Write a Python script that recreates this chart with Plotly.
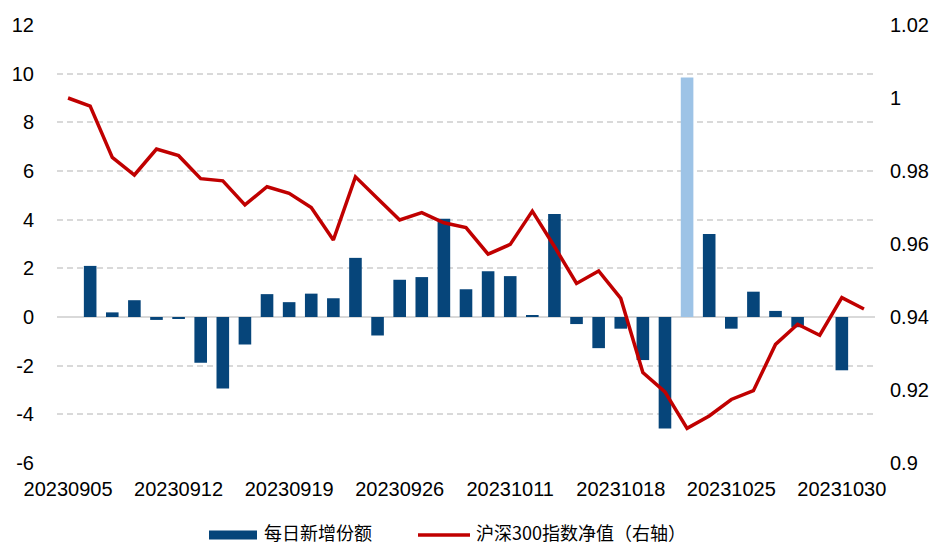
import plotly.graph_objects as go

dates = [
    "20230905", "20230906", "20230907", "20230908", "20230911", "20230912",
    "20230913", "20230914", "20230915", "20230918", "20230919", "20230920",
    "20230921", "20230922", "20230925", "20230926", "20230927", "20230928",
    "20231009", "20231010", "20231011", "20231012", "20231013", "20231016",
    "20231017", "20231018", "20231019", "20231020", "20231023", "20231024",
    "20231025", "20231026", "20231027", "20231028", "20231029", "20231030",
    "20231031",
]
tick_labels = ["20230905", "20230912", "20230919", "20230926", "20231011",
               "20231018", "20231025", "20231030"]

daily_new_shares = [
    0.0, 2.10, 0.19, 0.69, -0.12, -0.08, -1.88, -2.94, -1.13, 0.94,
    0.61, 0.96, 0.77, 2.43, -0.76, 1.53, 1.64, 4.04, 1.14, 1.88,
    1.68, 0.08, 4.23, -0.29, -1.28, -0.48, -1.77, -4.58, 9.84, 3.41,
    -0.48, 1.04, 0.25, -0.42, 0.0, -2.19, 0.0,
]
csi300_nav = [
    1.0000, 0.9978, 0.9837, 0.9789, 0.9860, 0.9842, 0.9779, 0.9773, 0.9707, 0.9757,
    0.9739, 0.9700, 0.9611, 0.9784, 0.9725, 0.9666, 0.9686, 0.9658, 0.9645, 0.9572,
    0.9599, 0.9690, 0.9593, 0.9492, 0.9526, 0.9451, 0.9248, 0.9195, 0.9095, 0.9129,
    0.9174, 0.9198, 0.9325, 0.9380, 0.9350, 0.9453, 0.9422,
]
highlight_date = "20231023"

left_ticks = [12, 10, 8, 6, 4, 2, 0, -2, -4, -6]
left_tick_text = ["12", "10", "8", "6", "4", "2", "0", "-2", "-4", "-6"]
right_ticks = [1.02, 1.0, 0.98, 0.96, 0.94, 0.92, 0.90]
right_tick_text = ["1.02", "1", "0.98", "0.96", "0.94", "0.92", "0.9"]

bar_name = "每日新增份额"
line_name = "沪深300指数净值（右轴）"

DARK = "#06457a"
LIGHT = "#9dc3e6"
RED = "#c00000"
GRID = "#d9d9d9"

bar_colors = [LIGHT if d == highlight_date else DARK for d in dates]

fig = go.Figure()
fig.add_trace(go.Bar(
    x=dates, y=daily_new_shares, marker=dict(color=bar_colors, line=dict(width=0)),
    name=bar_name, yaxis="y",
))
fig.add_trace(go.Scatter(
    x=dates, y=csi300_nav, mode="lines", line=dict(color=RED, width=3.5),
    name=line_name, yaxis="y2",
))

tick_font = dict(family="Liberation Sans, Arial, sans-serif", size=20, color="#000000")
legend_font = dict(family="Noto Sans CJK SC, sans-serif", size=18, color="#000000")

# plot area geometry (pixels) used to place a legend styled like the reference
L, R, T, B, W, H = 57, 60, 25, 82, 935, 545
pw, ph = W - L - R, H - T - B


def px(x):
    return (x - L) / pw


def py(y):
    return (H - B - y) / ph


LEG_Y = 535
shapes = [
    dict(type="rect", xref="paper", yref="paper",
         x0=px(209), x1=px(257), y0=py(LEG_Y + 4.5), y1=py(LEG_Y - 4.5),
         fillcolor=DARK, line=dict(width=0)),
    dict(type="line", xref="paper", yref="paper",
         x0=px(418), x1=px(470), y0=py(LEG_Y), y1=py(LEG_Y),
         line=dict(color=RED, width=3.5)),
]
annotations = [
    dict(text=bar_name, xref="paper", yref="paper", x=px(262), y=py(LEG_Y - 3),
         xanchor="left", yanchor="middle", showarrow=False, font=legend_font),
    dict(text=line_name, xref="paper", yref="paper", x=px(474), y=py(LEG_Y - 3),
         xanchor="left", yanchor="middle", showarrow=False, font=legend_font),
]

fig.update_layout(
    width=W, height=H,
    margin=dict(l=L, r=R, t=T, b=B, autoexpand=False),
    paper_bgcolor="white", plot_bgcolor="white",
    bargap=0.43,
    showlegend=False,
    shapes=shapes,
    annotations=annotations,
    xaxis=dict(
        type="category", range=[-0.5, len(dates) - 0.5],
        tickmode="array", tickvals=tick_labels, ticktext=tick_labels,
        showgrid=False, showline=False, ticks="", zeroline=False,
        tickfont=tick_font, tickangle=0, ticklabelstandoff=12, automargin=False,
    ),
    yaxis=dict(
        range=[-6, 12], tickmode="array", tickvals=left_ticks, ticktext=left_tick_text,
        showgrid=True, gridcolor=GRID, gridwidth=1.5, griddash="6px,4px",
        zeroline=True, zerolinecolor=GRID, zerolinewidth=1.5,
        showline=False, ticks="", tickfont=tick_font, ticklabelstandoff=22,
        automargin=False,
    ),
    yaxis2=dict(
        range=[0.90, 1.02], overlaying="y", side="right",
        tickmode="array", tickvals=right_ticks, ticktext=right_tick_text,
        showgrid=False, zeroline=False, showline=False, ticks="",
        tickfont=tick_font, ticklabelstandoff=14, automargin=False,
    ),
)

fig.write_html(
    "out.html",
    config={"displayModeBar": False},
    post_script="document.body.style.margin='0px';document.body.style.overflow='hidden';",
)
